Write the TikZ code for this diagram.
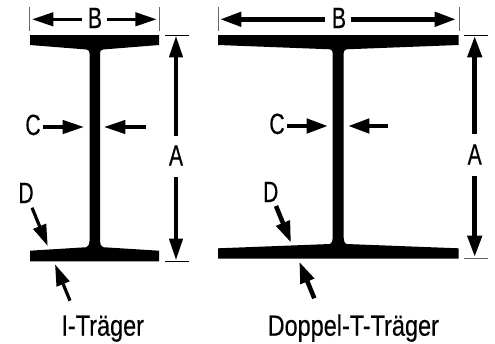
\documentclass[tikz,border=0pt]{standalone}
\usepackage{fontspec}
\setmainfont[FakeStretch=0.8,FakeBold=0.3]{Liberation Sans}
\newfontfamily\labfont[FakeStretch=0.72,FakeBold=0.3]{Liberation Sans}
\usetikzlibrary{arrows.meta}
\tikzset{
  beam/.style={fill=black,draw=none},
  tickk/.style={draw=black,line width=0.5pt},
  tickg/.style={draw=black!60,line width=0.6pt},
  dimarrow/.style={line width=2.4pt,-{Triangle[length=16pt,width=10pt]}},
  dimbold/.style={line width=3.4pt,-{Triangle[length=16pt,width=10.5pt]}},
  lab/.style={anchor=base,inner sep=0pt,font=\labfont\fontsize{22}{22}\selectfont},
  captext/.style={anchor=base,inner sep=0pt,font=\fontsize{22}{22}\selectfont},
}
\begin{document}
\begin{tikzpicture}[x=0.75pt,y=-0.75pt]
\useasboundingbox (0,0) rectangle (495,343);
% I beam
\path[beam] (30,35) -- (159,35) -- (159,45) -- (103,49.5)
  .. controls (101,50) and (100,51) .. (100,53) -- (100,241)
  .. controls (100,244) and (101,246.5) .. (103,247.2) -- (159,250.7) -- (159,261.3) -- (30,261.3) -- (30,250.7) -- (86.5,247.2)
  .. controls (88.5,246.5) and (89.5,244) .. (89.5,241) -- (89.5,53)
  .. controls (89.5,51) and (88.5,50) .. (86.5,49.5) -- (30,45) -- cycle;
% H beam
\path[beam] (218,35) -- (458.5,35) -- (458.5,45) -- (346.5,49.3)
  .. controls (344.7,49.7) and (343.7,51) .. (343.7,53) -- (343.7,238)
  .. controls (343.7,241) and (344.7,243.5) .. (346.5,244) -- (458.5,248.3) -- (458.5,258.7) -- (218,258.7) -- (218,248.3) -- (330,244)
  .. controls (331.7,243.5) and (332.7,241) .. (332.7,238) -- (332.7,53)
  .. controls (332.7,51) and (331.7,49.7) .. (330,49.3) -- (218,45) -- cycle;
% coordinates, left
\coordinate (b1t) at (29.5,7); \coordinate (b1b) at (29.5,31);
\coordinate (b2t) at (159.7,7); \coordinate (b2b) at (159.7,31);
\coordinate (a1l) at (165,35); \coordinate (a1r) at (189,35);
\coordinate (a2l) at (165,261.3); \coordinate (a2r) at (189,261.3);
\coordinate (bls) at (81.7,19.3); \coordinate (bl) at (32,19.3);
\coordinate (brs) at (107,19.3); \coordinate (br) at (156.7,19.3);
\coordinate (ats) at (176,136); \coordinate (at) at (176,36);
\coordinate (abs) at (176,177); \coordinate (ab) at (176,260);
\coordinate (cls) at (43,127); \coordinate (cl) at (84,127);
\coordinate (crs) at (145.7,127); \coordinate (cr) at (104,127);
\coordinate (ds) at (32,207.7); \coordinate (dt) at (47.7,246);
\coordinate (es) at (70,300.7); \coordinate (et) at (55,264.3);
\node[lab] (B1) at (95,28) {B};
\node[lab] (A1) at (176,165.5) {A};
\node[lab] (C1) at (33,135) {C};
\node[lab] (D1) at (26,203) {D};
\node[captext] (T1) at (102.7,335.7) {I-Träger};
\draw[tickg] (b1t) -- (b1b);
\draw[tickg] (b2t) -- (b2b);
\draw[tickk] (a1l) -- (a1r);
\draw[tickk] (a2l) -- (a2r);
\draw[dimarrow] (bls) -- (bl);
\draw[dimarrow] (brs) -- (br);
\draw[dimarrow] (ats) -- (at);
\draw[dimarrow] (abs) -- (ab);
\draw[dimarrow] (cls) -- (cl);
\draw[dimarrow] (crs) -- (cr);
\draw[dimarrow] (ds) -- (dt);
\draw[dimarrow] (es) -- (et);
% coordinates, right
\coordinate (Bb1t) at (218.3,7); \coordinate (Bb1b) at (218.3,31);
\coordinate (Bb2t) at (459,7); \coordinate (Bb2b) at (459,31);
\coordinate (Ba1l) at (464,35); \coordinate (Ba1r) at (487.7,35);
\coordinate (Ba2l) at (464,258.7); \coordinate (Ba2r) at (487.7,258.7);
\coordinate (Bbls) at (325,19.3); \coordinate (Bbl) at (220,19.3);
\coordinate (Bbrs) at (350.7,19.3); \coordinate (Bbr) at (456,19.3);
\coordinate (Bats) at (474.7,134); \coordinate (Bat) at (474.7,36);
\coordinate (Babs) at (474.7,176); \coordinate (Bab) at (474.7,257);
\coordinate (Bcls) at (287,126); \coordinate (Bcl) at (328,126);
\coordinate (Bcrs) at (388,126); \coordinate (Bcr) at (348,126);
\coordinate (Bds) at (276,206); \coordinate (Bdt) at (291,242.7);
\coordinate (Bes) at (314.3,298.3); \coordinate (Bet) at (299.3,261.7);
\node[lab] (B2) at (339,28) {B};
\node[lab] (A2) at (474.7,164.5) {A};
\node[lab] (C2) at (277,134) {C};
\node[lab] (D2) at (270.7,202) {D};
\node[captext] (T2) at (353.3,335.7) {Doppel-T-Träger};
\draw[tickg] (Bb1t) -- (Bb1b);
\draw[tickg] (Bb2t) -- (Bb2b);
\draw[tickk] (Ba1l) -- (Ba1r);
\draw[tickg] (Ba2l) -- (Ba2r);
\draw[dimbold] (Bbls) -- (Bbl);
\draw[dimbold] (Bbrs) -- (Bbr);
\draw[dimbold] (Bats) -- (Bat);
\draw[dimbold] (Babs) -- (Bab);
\draw[dimbold] (Bcls) -- (Bcl);
\draw[dimbold] (Bcrs) -- (Bcr);
\draw[dimbold] (Bds) -- (Bdt);
\draw[dimbold] (Bes) -- (Bet);
\end{tikzpicture}
\end{document}
